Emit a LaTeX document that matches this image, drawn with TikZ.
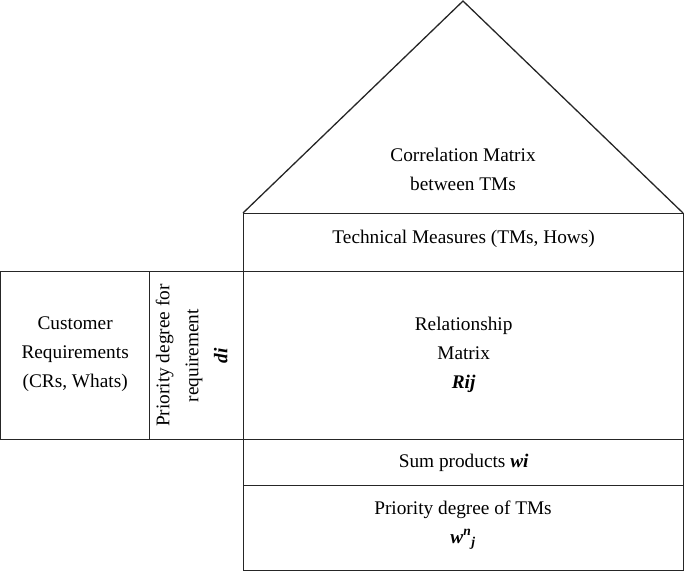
\documentclass[tikz,border=0pt]{standalone}
\usepackage{fontspec}
\setmainfont{Liberation Serif}
\begin{document}
\begin{tikzpicture}[x=1pt,y=-1pt,
  line/.style={draw=black!85,line width=1.3pt},
  box/.style={line,rectangle,inner sep=0pt,anchor=north west},
  lbl/.style={align=center,font=\fontsize{19.3}{29}\selectfont}]
\useasboundingbox (0,0) rectangle (685,571);
% roof
\coordinate (apex) at (463,1);
\coordinate (rl) at (243,213);
\coordinate (rr) at (683,213);
\draw[line,line join=miter] (rl) -- (apex) -- (rr);
\node[lbl] (corr) at (463,169) {Correlation Matrix\\between TMs};
% boxes
\node[box,minimum width=440pt,minimum height=58pt] (tm) at (243,213) {};
\node[lbl] (tmt) at ([yshift=4pt]tm.center) {Technical Measures (TMs, Hows)};
\node[box,minimum width=149pt,minimum height=168pt] (cr) at (0,271) {};
\node[lbl] (crt) at ([yshift=1pt]cr.center) {Customer\\Requirements\\(CRs, Whats)};
\node[box,minimum width=94pt,minimum height=168pt] (pd) at (149,271) {};
\node[lbl,rotate=90] (pdt) at ([xshift=-5pt]pd.center) {Priority degree for\\requirement\\\textbf{\textit{di}}};
\node[box,minimum width=440pt,minimum height=168pt] (rm) at (243,271) {};
\node[lbl] (rmt) at ([yshift=1pt]rm.center) {Relationship\\Matrix\\\textbf{\textit{Rij}}};
\node[box,minimum width=440pt,minimum height=46pt] (sp) at (243,439) {};
\node[lbl] (spt) at (sp.center) {Sum products \textbf{\textit{wi}}};
\node[box,minimum width=440pt,minimum height=85pt] (pt) at (243,485) {};
\node[lbl] (ptt) at (463,525) {Priority degree of TMs\\\textbf{\textit{w\textsuperscript{n}\textsubscript{j}}}};
\end{tikzpicture}
\end{document}
